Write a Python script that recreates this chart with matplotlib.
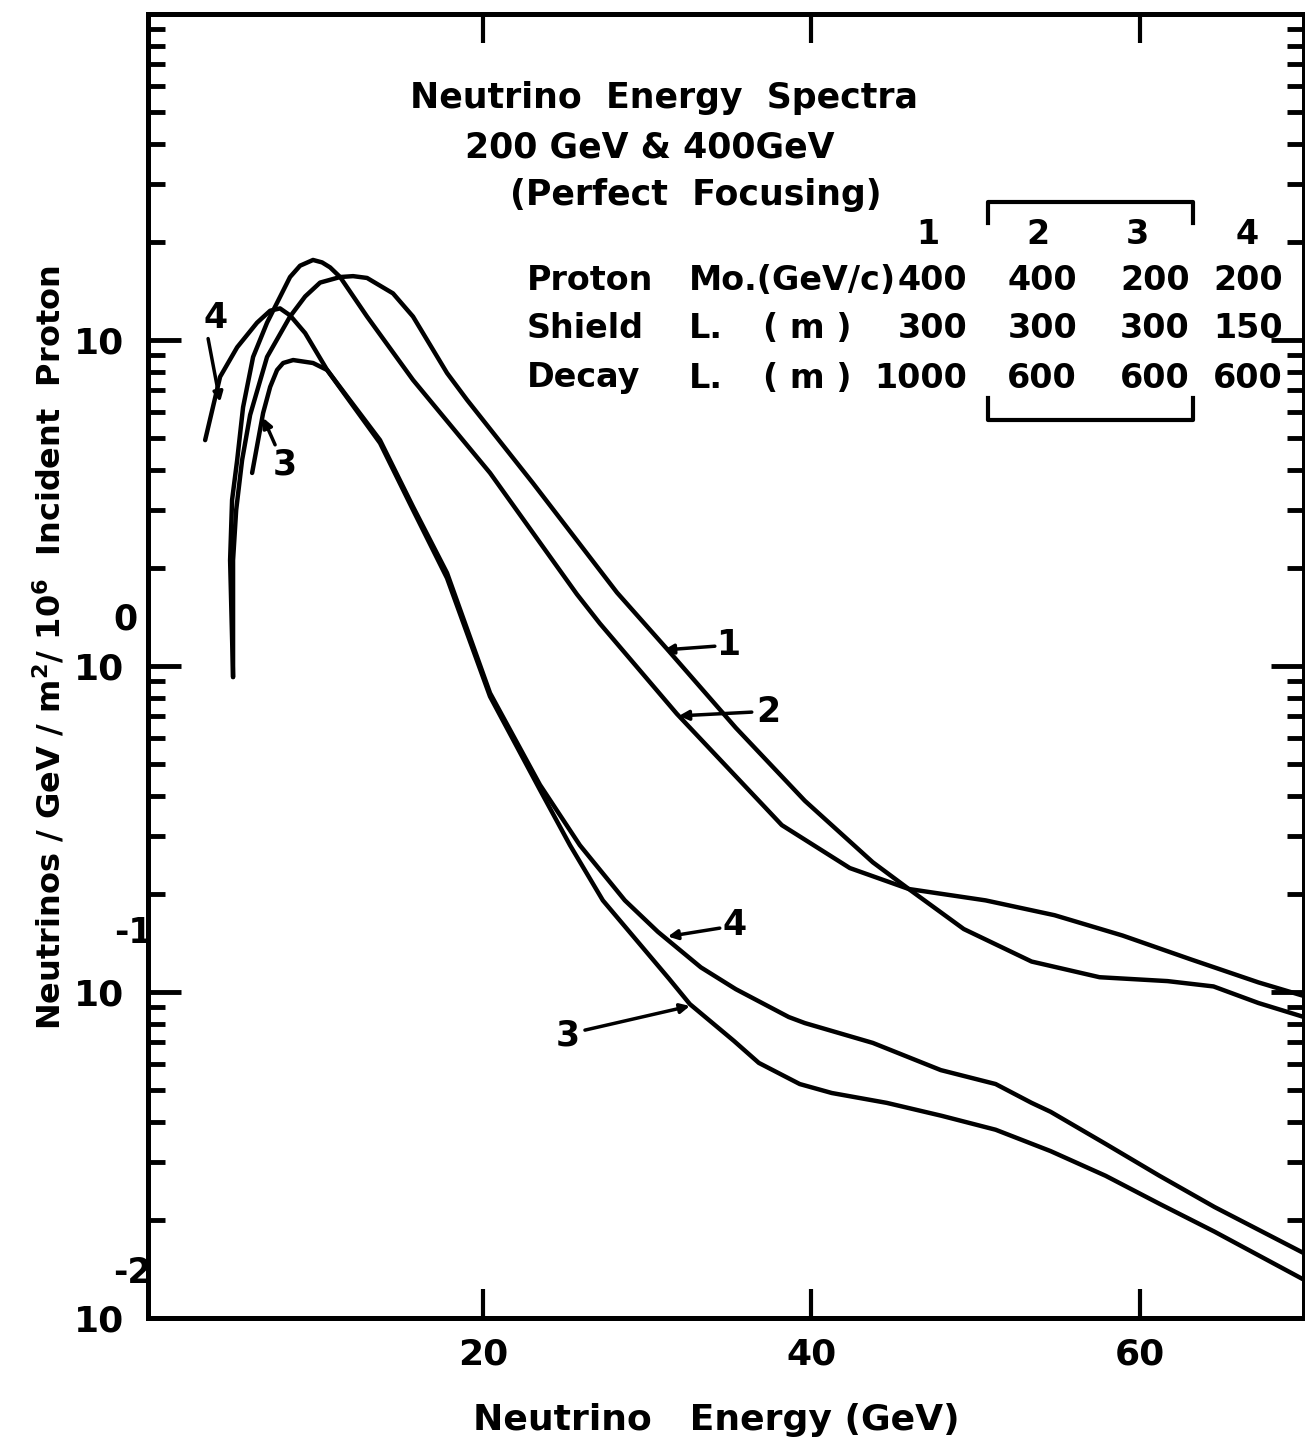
import numpy as np
import matplotlib
matplotlib.use("Agg")
import matplotlib.pyplot as plt
from matplotlib.lines import Line2D
from matplotlib.ticker import LogLocator, NullFormatter, NullLocator

plt.rcParams['font.family'] = ['DejaVu Sans']
plt.rcParams['font.weight'] = 'bold'
plt.rcParams['axes.labelweight'] = 'bold'
plt.rcParams['mathtext.fontset'] = 'dejavusans'
plt.rcParams['mathtext.default'] = 'bf'

# curve 1: 400 GeV/c, shield 300 m, decay 1000 m
e1 = [4.78, 4.78, 4.97, 5.33, 5.82, 6.85, 8.25, 9.17, 10.08, 11.30, 12.09, 12.94,
      14.52, 15.74, 17.81, 19.03, 23.04, 28.16, 31.26, 35.40, 39.60, 43.74, 45.93,
      49.28, 53.41, 57.55, 61.69, 64.49, 67.23, 70.0]
f1 = [0.925, 2.11, 3.01, 4.28, 5.89, 8.87, 11.8, 13.6, 15.0, 15.6, 15.7, 15.5,
      13.9, 11.8, 7.92, 6.55, 3.64, 1.68, 1.12, 0.646, 0.386, 0.250, 0.207,
      0.156, 0.124, 0.111, 0.108, 0.104, 0.0925, 0.0838]

# curve 2: 400 GeV/c, shield 300 m, decay 600 m
e2 = [4.78, 4.60, 4.72, 5.03, 5.39, 6.00, 6.85, 8.25, 8.86, 9.65, 10.20, 10.69,
      11.30, 12.94, 15.74, 20.43, 25.72, 27.12, 31.81, 38.20, 42.34, 45.93, 50.61,
      54.81, 58.95, 63.09, 67.23, 70.0]
f2 = [0.925, 2.11, 3.23, 4.28, 6.22, 8.87, 11.3, 15.6, 16.9, 17.6, 17.3, 16.7,
      15.6, 11.8, 7.54, 3.91, 1.66, 1.35, 0.713, 0.325, 0.240, 0.207, 0.191,
      0.172, 0.149, 0.126, 0.107, 0.0972]

# curve 3: 200 GeV/c, shield 300 m, decay 600 m
e3 = [5.94, 6.61, 7.04, 7.46, 7.83, 8.44, 9.65, 10.51, 13.73, 15.74, 17.81, 20.43,
      23.47, 25.30, 27.30, 31.32, 32.60, 35.28, 36.80, 39.29, 41.24, 44.59, 47.94,
      51.22, 54.57, 57.92, 61.20, 64.55, 70.0]
f3 = [3.91, 5.97, 7.18, 8.09, 8.50, 8.68, 8.50, 8.09, 4.83, 3.01, 1.86, 0.806,
      0.417, 0.282, 0.191, 0.110, 0.0918, 0.0708, 0.0606, 0.0522, 0.0490, 0.0457,
      0.0417, 0.0378, 0.0325, 0.0273, 0.0224, 0.0184, 0.0131]

# curve 4: 200 GeV/c, shield 150 m, decay 600 m
e4 = [3.08, 3.99, 5.03, 6.24, 7.04, 7.64, 8.25, 9.17, 10.51, 13.73, 15.74, 17.81,
      20.43, 23.47, 25.90, 28.64, 30.65, 33.27, 35.40, 38.62, 39.60, 43.74, 47.88,
      51.22, 53.41, 54.57, 57.92, 61.20, 64.55, 70.0]
f4 = [4.93, 7.71, 9.5, 11.3, 12.3, 12.5, 11.9, 10.5, 8.09, 4.93, 3.08, 1.93,
      0.826, 0.432, 0.282, 0.191, 0.153, 0.119, 0.102, 0.0838, 0.0803, 0.0698,
      0.0576, 0.0522, 0.0457, 0.0429, 0.0342, 0.0273, 0.0219, 0.0158]

curves = [(e1, f1), (e2, f2), (e3, f3), (e4, f4)]

# table of beam parameters
col_ids = ['1', '2', '3', '4']
proton_mo = [400, 400, 200, 200]
shield_len = [300, 300, 300, 150]
decay_len = [1000, 600, 600, 600]

x_ticks = [20, 40, 60]
y_ticks = [1e-2, 1e-1, 1.0, 10.0, 100.0]
y_labels = ['10', '10', '10', '10', '']
y_exps = {1.0: '0', 0.1: '-1', 0.01: '-2'}

W, H = 1305, 1451


def P(x, y):
    return x / W, 1 - y / H


fig = plt.figure(figsize=(W / 100, H / 100), dpi=100)
ax = fig.add_axes([148 / W, 1 - 1318 / H, (1304 - 148) / W, (1318 - 14) / H])
ax.set_yscale('log')
ax.set_xlim(-0.4, 70)
ax.set_ylim(1e-2, 1e2)

for e, f in curves:
    ax.plot(e, f, color='black', lw=3.2, solid_capstyle='round', solid_joinstyle='round')

for s in ax.spines.values():
    s.set_linewidth(3.6)

ax.set_xticks(x_ticks)
ax.set_xticklabels([str(t) for t in x_ticks])
ax.xaxis.set_minor_locator(NullLocator())
ax.tick_params(axis='x', which='major', direction='in', length=21, width=3,
               top=True, bottom=True, labelsize=26, pad=14)

ax.set_yticks(y_ticks)
ax.set_yticklabels(y_labels)
ax.yaxis.set_minor_locator(LogLocator(base=10, subs=np.arange(2, 10)))
ax.yaxis.set_minor_formatter(NullFormatter())
ax.tick_params(axis='y', which='major', direction='in', length=24, width=3.5,
               left=True, right=True, labelsize=26, pad=17)
ax.tick_params(axis='y', which='minor', direction='in', length=12, width=3.5,
               left=True, right=True)

exp_off = {1.0: (-23, 47), 0.1: (-15, 59), 0.01: (-16, 45)}
for v, txt in y_exps.items():
    ax.annotate(txt, xy=(0, v), xycoords=('axes fraction', 'data'),
                xytext=exp_off[v], textcoords='offset pixels',
                ha='center', va='center', fontsize=25)

ax.set_xlabel('Neutrino   Energy (GeV)', fontsize=26)
ax.xaxis.set_label_coords((716 - 148) / 1156, (1318 - 1420) / 1304)
ax.xaxis.label.set_va('center')
ax.set_ylabel(r'Neutrinos / GeV / m$^2$/ 10$^6$  Incident  Proton', fontsize=23)
ax.yaxis.set_label_coords((50 - 148) / 1156, (1318 - 648) / 1304)
ax.yaxis.label.set_va('center')

# curve labels with arrows
labels = [
    ('4', (3.69, 11.7), (3.26, 10.1), (3.99, 6.46)),
    ('3', (7.95, 4.14), (7.34, 4.77), (6.61, 5.77)),
    ('1', (34.91, 1.16), (34.12, 1.15), (31.02, 1.12)),
    ('2', (37.35, 0.722), (36.37, 0.722), (31.93, 0.703)),
    ('4', (35.34, 0.161), (34.42, 0.157), (31.26, 0.148)),
    ('3', (25.17, 0.0738), (26.21, 0.0764), (32.60, 0.0906)),
]
for txt, pos, tail, tip in labels:
    ax.text(pos[0], pos[1], txt, fontsize=25, ha='center', va='center')
    ax.annotate('', xy=tip, xytext=tail,
                arrowprops=dict(arrowstyle='-|>', color='black', lw=2.5,
                                mutation_scale=14, shrinkA=0, shrinkB=0))

# title block
fig.text(*P(410, 98), 'Neutrino  Energy  Spectra', fontsize=25, ha='left', va='center')
fig.text(*P(465, 147), '200 GeV & 400GeV', fontsize=25, ha='left', va='center')
fig.text(*P(510, 195), '(Perfect  Focusing)', fontsize=25, ha='left', va='center')

col_cx = [928, 1038, 1137, 1247]
col_rx = [967, 1077, 1190, 1283]
for cid, cx in zip(col_ids, col_cx):
    fig.text(*P(cx, 235), cid, fontsize=24, ha='center', va='center')

rows = [
    (280, [('Proton', 527), ('Mo.(GeV/c)', 689)], proton_mo),
    (328, [('Shield', 527), ('L.', 689), ('( m )', 763)], shield_len),
    (378, [('Decay', 527), ('L.', 689), ('( m )', 763)], decay_len),
]
for y, words, vals in rows:
    for w, x in words:
        fig.text(*P(x, y), w, fontsize=24, ha='left', va='center')
    for v, rx in zip(vals, col_rx):
        fig.text(*P(rx, y), str(v), fontsize=24, ha='right', va='center')

# brackets grouping columns 2 and 3
bl, br = col_cx[1] - 50, col_cx[2] + 56
for ys in [(223, 202, 202, 223), (398, 420, 420, 398)]:
    xs = (bl, bl, br, br)
    fx = [x / W for x in xs]
    fy = [1 - y / H for y in ys]
    fig.add_artist(Line2D(fx, fy, transform=fig.transFigure, color='black', lw=3))

fig.savefig('out.png', dpi=100, facecolor='white')
